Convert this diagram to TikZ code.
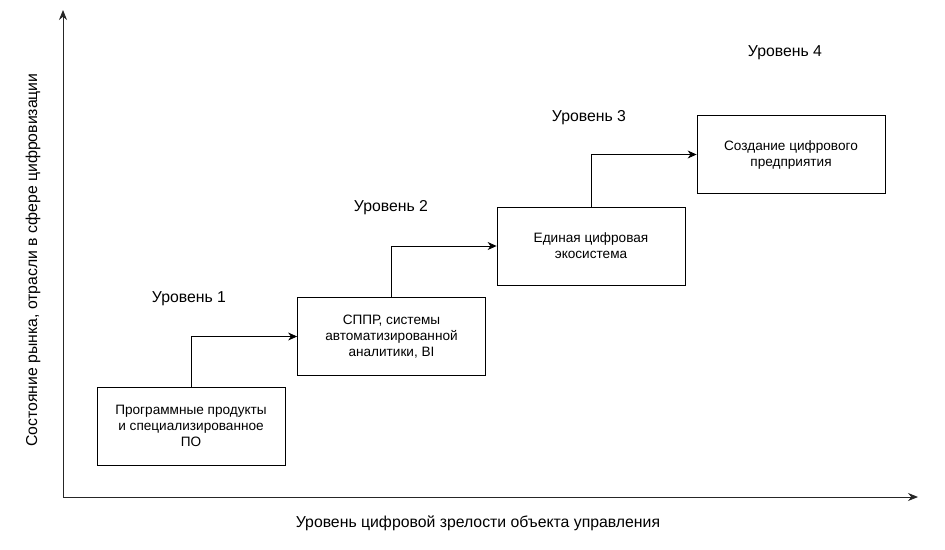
\documentclass[tikz,border=0pt]{standalone}
\usepackage{fontspec}
\setmainfont{Liberation Sans}
\usetikzlibrary{arrows.meta,positioning}
\tikzset{
  axarr/.style={-{Stealth[length=10pt,width=8pt]}, line width=0.9pt, black!85},
  stagebox/.style={draw, line width=0.8pt, minimum width=188pt, minimum height=78pt,
                   align=center, font=\fontsize{13.6}{16}\selectfont, inner sep=2pt},
  steparr/.style={-{Stealth[length=9pt,width=8pt]}, line width=0.8pt},
  lvl/.style={font=\fontsize{15.8}{18}\selectfont},
  axlab/.style={font=\fontsize{15.8}{18}\selectfont},
}
\begin{document}
\begin{tikzpicture}[x=1pt,y=-1pt]
    \useasboundingbox (0,0) rectangle (945,549);
    % axes
    \coordinate (origin) at (63,497);
    \coordinate (ytip) at (63,10);
    \coordinate (xtip) at (918,497);
    \draw[axarr] (origin) -- (ytip);
    \draw[axarr] (origin) -- (xtip);
    \node[axlab, rotate=90] (ylab) at (33,260) {Состояние рынка, отрасли в сфере цифровизации};
    \node[axlab] (xlab) at (478,523) {Уровень цифровой зрелости объекта управления};
    % stages
    \node[stagebox] (prog) at (191,426) {Программные продукты\\и специализированное\\ПО};
    \node[stagebox] (sppr) at (391.5,336.5) {СППР, системы\\автоматизированной\\аналитики, BI};
    \node[stagebox] (eco) at (591,246) {Единая цифровая\\экосистема};
    \node[stagebox] (ent) at (791,154.5) {Создание цифрового\\предприятия};
    % levels
    \node[lvl] (lvl1) at (189,299) {Уровень 1};
    \node[lvl] (lvl2) at (391,208) {Уровень 2};
    \node[lvl] (lvl3) at (589,118) {Уровень 3};
    \node[lvl] (lvl4) at (785,53) {Уровень 4};
    % steps
    \draw[steparr] (prog.north) |- (sppr.west);
    \draw[steparr] (sppr.north) |- (eco.west);
    \draw[steparr] (eco.north) |- (ent.west);
\end{tikzpicture}
\end{document}
